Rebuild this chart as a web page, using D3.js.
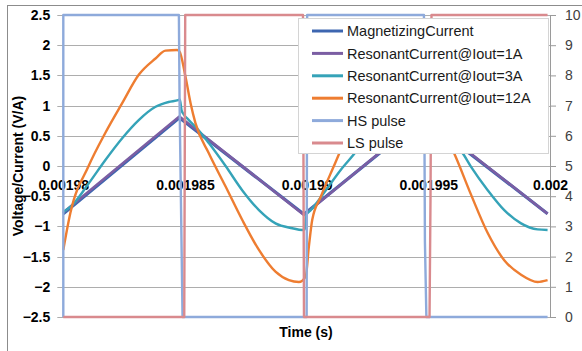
<!DOCTYPE html>
<html>
<head>
<meta charset="utf-8">
<script src="https://cdn.jsdelivr.net/npm/d3@7/dist/d3.min.js"></script>
<style>
  body { margin: 0; background: #fff; }
  svg { display: block; font-family: "Liberation Sans", Arial, sans-serif; }
</style>
</head>
<body>
<svg id="chart" width="582" height="351"></svg>
<script>
// time values are microseconds after t = 0.00198 s
const xTicks = [0, 5, 10, 15, 20];
const xTickLabels = ["0.00198", "0.001985", "0.00199", "0.001995", "0.002"];
const leftTicks = [-2.5, -2, -1.5, -1, -0.5, 0, 0.5, 1, 1.5, 2, 2.5];
const rightTicks = [0, 1, 2, 3, 4, 5, 6, 7, 8, 9, 10];

// triangular currents (magnetizing and light load)
const triTime = [0, 4.77, 9.89, 14.80, 19.90];
const magnetizing = [-0.79, 0.80, -0.80, 0.80, -0.79];
const resonant1A = [-0.77, 0.82, -0.81, 0.82, -0.79];

const time3A = [0, 0.36, 1.04, 1.73, 2.42, 3.10, 3.79, 4.33, 4.72, 4.79, 4.86, 4.94, 5.16, 5.50, 5.98,
    6.67, 7.35, 8.04, 8.72, 9.41, 9.82, 9.92, 10.00, 10.15, 10.70, 11.39, 12.07, 12.42, 13.10, 13.79,
    14.33, 14.72, 14.79, 14.86, 14.94, 15.16, 15.50, 16.00, 16.41, 16.75, 17.44, 18.12, 18.81, 19.49, 19.90];
const resonant3A = [-0.76, -0.65, -0.29, 0.10, 0.46, 0.76, 0.98, 1.06, 1.09, 1.10, 0.92, 0.86, 0.76, 0.62, 0.38,
    0.00, -0.40, -0.73, -0.95, -1.03, -1.06, -1.05, -0.80, -0.74, -0.45, -0.07, 0.26, 0.46, 0.76, 0.98,
    1.06, 1.09, 1.10, 0.92, 0.86, 0.76, 0.62, 0.38, 0.21, -0.01, -0.40, -0.73, -0.95, -1.05, -1.06];

const time12A = [0, 0.29, 1.04, 1.73, 2.42, 3.10, 3.79, 4.20, 4.68, 4.77, 5.02, 5.23, 5.43, 5.98, 6.67,
    7.35, 8.04, 8.72, 9.27, 9.68, 9.96, 10.09, 10.23, 10.58, 11.12, 11.40, 12.42, 13.10, 13.79, 14.20,
    14.68, 14.77, 15.02, 15.23, 15.43, 16.06, 16.75, 17.44, 18.12, 18.81, 19.49, 19.90];
const resonant12A = [-1.39, -0.78, 0.00, 0.55, 1.04, 1.51, 1.78, 1.91, 1.92, 1.90, 1.48, 1.04, 0.71, 0.21, -0.34,
    -0.89, -1.39, -1.75, -1.89, -1.92, -1.83, -1.34, -0.89, -0.51, 0.00, 0.26, 1.04, 1.51, 1.78, 1.91,
    1.92, 1.90, 1.48, 1.04, 0.71, 0.21, -0.47, -1.11, -1.56, -1.80, -1.92, -1.89];

// gate pulses on the secondary axis
const hsTime = [0, 0, 4.75, 4.78, 4.90, 10.00, 10.02, 14.82, 14.86, 14.92, 19.90];
const hsPulse = [0, 10, 10, 7, 0, 0, 10, 10, 2.5, 0, 0];
const lsTime = [0, 4.97, 5.01, 9.85, 9.89, 15.05, 15.09, 15.13, 19.90];
const lsPulse = [0, 0, 10, 10, 0, 0, 4, 10, 10];

const seriesNames = ["MagnetizingCurrent", "ResonantCurrent@Iout=1A", "ResonantCurrent@Iout=3A",
    "ResonantCurrent@Iout=12A", "HS pulse", "LS pulse"];
const seriesColors = ["#3d66b0", "#7b5ea3", "#35a3b8", "#ee7d31", "#8eaadb", "#d98a8e"];

const plot = { left: 63.3, right: 550, top: 15, bottom: 317 };

const svg = d3.select("#chart");
const x = d3.scaleLinear().domain([0, 20]).range([plot.left, plot.right]);
const yL = d3.scaleLinear().domain([-2.5, 2.5]).range([plot.bottom, plot.top]);
const yR = d3.scaleLinear().domain([0, 10]).range([plot.bottom, plot.top]);

// chart area border
svg.append("rect")
    .attr("x", 7.5).attr("y", 5.5).attr("width", 620).attr("height", 400)
    .attr("fill", "none").attr("stroke", "#8c8c8c");

// horizontal gridlines with the left tick marks
svg.append("g").selectAll("line")
    .data(leftTicks)
    .join("line")
    .attr("x1", plot.left - 6).attr("x2", plot.right)
    .attr("y1", d => Math.round(yL(d)) + 0.5).attr("y2", d => Math.round(yL(d)) + 0.5)
    .attr("stroke", "#adadad");

// left axis
svg.append("g")
    .attr("transform", `translate(${plot.left - 13},0)`)
    .call(d3.axisLeft(yL).tickValues(leftTicks).tickSize(0).tickPadding(0).tickFormat(d3.format("")))
    .call(g => g.select(".domain").remove())
    .call(g => g.selectAll("text").attr("font-size", 14).attr("font-weight", "bold")
        .attr("font-family", "Liberation Sans, Arial, sans-serif").attr("fill", "#000"));

// right axis
svg.append("g")
    .attr("transform", `translate(${plot.right},0)`)
    .call(d3.axisRight(yR).tickValues(rightTicks).tickSize(6).tickPadding(9))
    .call(g => g.select(".domain").attr("stroke", "#9a9a9a"))
    .call(g => g.selectAll("line").attr("stroke", "#9a9a9a"))
    .call(g => g.selectAll("text").attr("font-size", 14)
        .attr("font-family", "Liberation Sans, Arial, sans-serif").attr("fill", "#404040"));

// x axis labels sit just under the zero line
svg.append("g")
    .attr("transform", `translate(0,${yL(0)})`)
    .call(d3.axisBottom(x).tickValues(xTicks).tickSize(0).tickPadding(14)
        .tickFormat((d, i) => xTickLabels[i]))
    .call(g => g.select(".domain").remove())
    .call(g => g.selectAll("text").attr("font-size", 14).attr("font-weight", "bold")
        .attr("font-family", "Liberation Sans, Arial, sans-serif").attr("fill", "#000"));

// axis titles
svg.append("text")
    .attr("transform", "translate(23,166) rotate(-90)")
    .attr("text-anchor", "middle")
    .attr("font-size", 14).attr("font-weight", "bold")
    .text("Voltage/Current (V/A)");
svg.append("text")
    .attr("x", 306).attr("y", 337)
    .attr("text-anchor", "middle")
    .attr("font-size", 14).attr("font-weight", "bold")
    .text("Time (s)");

// resonant currents are smoothed like the spreadsheet lines; triangles and pulses stay straight
const lineSmooth = d3.line().x(d => x(d[0])).y(d => yL(d[1])).curve(d3.curveMonotoneX);
const lineL = d3.line().x(d => x(d[0])).y(d => yL(d[1]));
const lineR = d3.line().x(d => x(d[0])).y(d => yR(d[1]));

const series = [
    { t: triTime, v: magnetizing, line: lineL, w: 3.2 },
    { t: triTime, v: resonant1A, line: lineL, w: 2.6 },
    { t: time3A, v: resonant3A, line: lineSmooth, w: 2.4 },
    { t: time12A, v: resonant12A, line: lineSmooth, w: 2.4 },
    { t: hsTime, v: hsPulse, line: lineR, w: 2.4 },
    { t: lsTime, v: lsPulse, line: lineR, w: 2.4 }
];

svg.append("g").selectAll("path")
    .data(series)
    .join("path")
    .attr("d", s => s.line(s.t.map((t, i) => [t, s.v[i]])))
    .attr("fill", "none")
    .attr("stroke", (s, i) => seriesColors[i])
    .attr("stroke-width", s => s.w)
    .attr("stroke-linejoin", "round");

// legend
const legend = svg.append("g").attr("transform", "translate(298,18)");
legend.append("rect")
    .attr("x", 0.5).attr("y", 0.5).attr("width", 250).attr("height", 135)
    .attr("fill", "#fff").attr("stroke", "#d4d4d4");
const items = legend.selectAll(".item")
    .data(seriesNames)
    .join("g")
    .attr("class", "item")
    .attr("transform", (d, i) => `translate(0,${13 + i * 22.4})`);
items.append("line")
    .attr("x1", 14).attr("x2", 45)
    .attr("stroke", (d, i) => seriesColors[i])
    .attr("stroke-width", 3);
items.append("text")
    .attr("x", 49).attr("dy", "0.36em")
    .attr("font-size", 14.5).attr("fill", "#1a1a1a")
    .text(d => d);
</script>
</body>
</html>
